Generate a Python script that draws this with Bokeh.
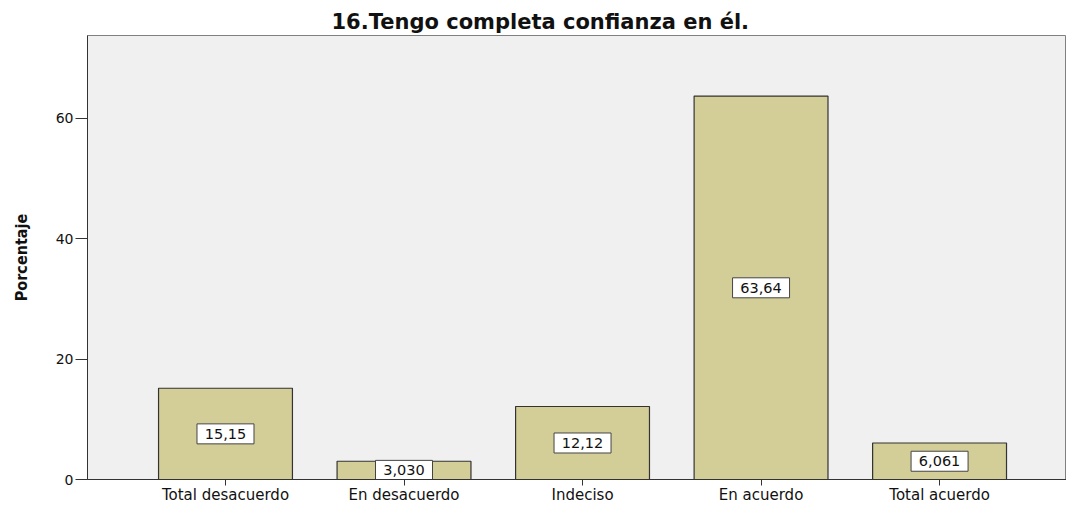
from bokeh.plotting import figure
from bokeh.models import Range1d, FixedTicker, ColumnDataSource, Title
from bokeh.core.properties import value
from bokeh.embed import file_html
from bokeh.resources import INLINE

categories = ["Total desacuerdo", "En desacuerdo", "Indeciso", "En acuerdo", "Total acuerdo"]
percentages = [15.15, 3.030, 12.12, 63.64, 6.061]
value_labels = ["15,15", "3,030", "12,12", "63,64", "6,061"]
y_ticks = [0, 20, 40, 60]
title_text = "16.Tengo completa confianza en él."
y_label = "Porcentaje"

xs = list(range(len(categories)))
src = ColumnDataSource(dict(
    x=xs,
    top=percentages,
    mid=[v / 2 for v in percentages],
    lab=value_labels,
))

p = figure(width=1066, height=506, output_backend="svg", toolbar_location=None,
           x_range=Range1d(-0.773, 4.711), y_range=Range1d(0, 73.7),
           min_border_left=87, min_border_right=0, min_border_top=35, min_border_bottom=0,
           background_fill_color="#f0f0f0", border_fill_color="white",
           outline_line_color="#808080", outline_line_width=1)
p.title = None
t = Title(text=title_text, align="left", offset=244, text_font="DejaVu Sans",
          text_font_style="bold", text_font_size="21px", text_color="#111111", standoff=3)
p.add_layout(t, "above")

p.vbar(x="x", top="top", width=0.75, bottom=0, source=src,
       fill_color="#d3ce97", line_color="#333333", line_width=1.2)

p.rect(x="x", y="mid", width=57, height=20, width_units="screen", height_units="screen",
       source=src, fill_color="white", line_color="#444444", line_width=1)
p.text(x="x", y="mid", text="lab", source=src, text_align="center", text_baseline="middle",
       text_font=value("DejaVu Sans"), text_font_size="14.5px", text_color="#111111")

p.xgrid.visible = False
p.ygrid.visible = False

xa = p.xaxis[0]
xa.ticker = FixedTicker(ticks=xs)
xa.major_label_overrides = {i: c for i, c in zip(xs, categories)}
xa.minor_tick_line_color = None
xa.major_tick_in = 0
xa.major_tick_out = 6
xa.major_label_standoff = 0
xa.major_label_text_font = "DejaVu Sans"
xa.major_label_text_font_size = "15px"
xa.major_label_text_color = "#111111"
xa.axis_line_color = "#333333"
xa.major_tick_line_color = "#333333"

ya = p.yaxis[0]
ya.ticker = FixedTicker(ticks=y_ticks)
ya.minor_tick_line_color = None
ya.major_tick_in = 0
ya.major_tick_out = 12
ya.major_label_standoff = 2
ya.major_label_text_font = "DejaVu Sans"
ya.major_label_text_font_size = "14px"
ya.major_label_text_color = "#111111"
ya.axis_line_color = "#333333"
ya.major_tick_line_color = "#333333"
ya.axis_label = y_label
ya.axis_label_text_font = "DejaVu Sans Condensed"
ya.axis_label_text_font_style = "bold"
ya.axis_label_text_font_size = "16px"
ya.axis_label_text_color = "#111111"
ya.axis_label_standoff = 22

open("out.html", "w").write(file_html(p, INLINE))
